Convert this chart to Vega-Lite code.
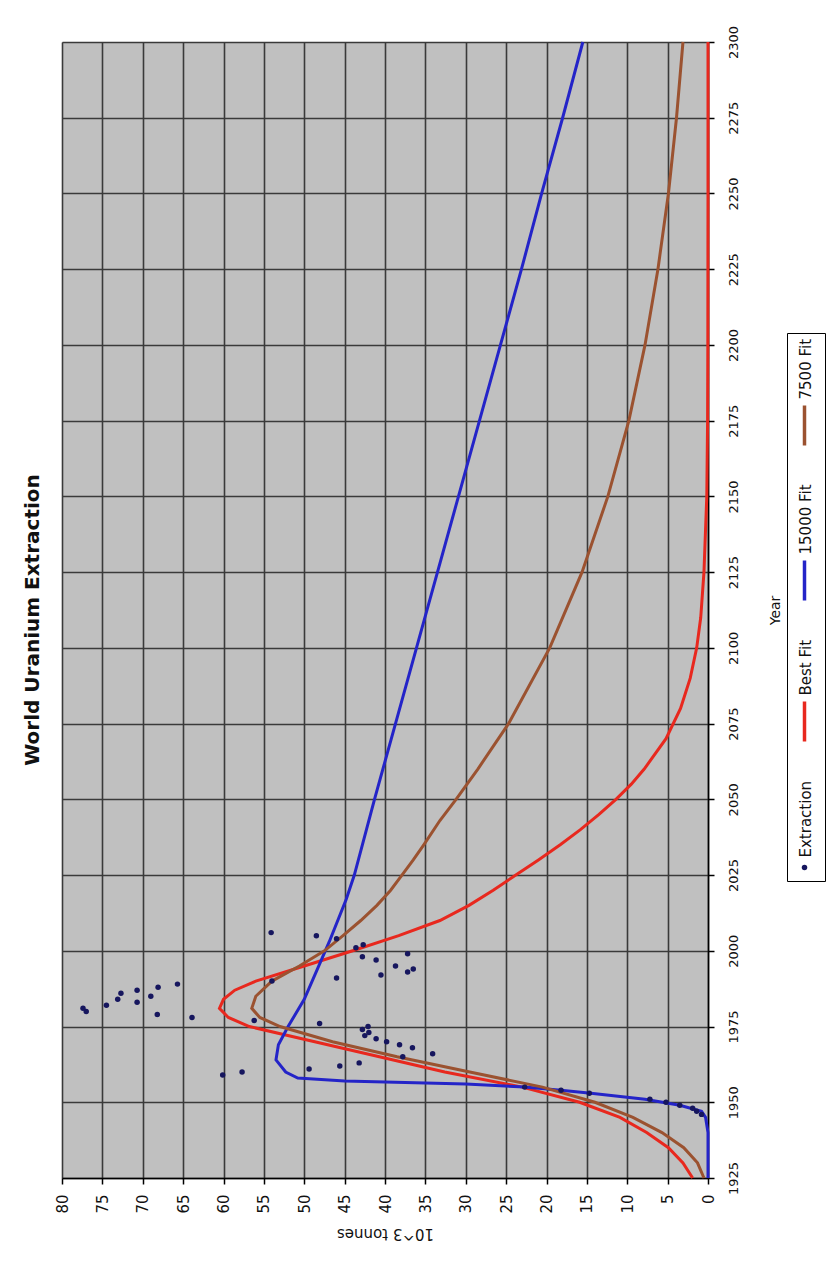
{
  "$schema": "https://vega.github.io/schema/vega-lite/v6.json",
  "width": 646,
  "height": 1136,
  "autosize": {"type": "none"},
  "padding": {"left": 62, "top": 42, "right": 122, "bottom": 89},
  "background": "white",
  "title": {"text": "World Uranium Extraction", "orient": "left", "anchor": "middle", "font": "DejaVu Sans", "fontSize": 20, "fontWeight": "bold", "color": "#111111", "offset": -8, "baseline": "bottom", "dx": -10},
  "config": {"view": {"fill": "#c0c0c0", "stroke": null}, "font": "DejaVu Sans"},
  "data": {"values": [
    {"series": "Best Fit", "year": 1925, "value": 1.9},
    {"series": "Best Fit", "year": 1930, "value": 3.1},
    {"series": "Best Fit", "year": 1935, "value": 4.9},
    {"series": "Best Fit", "year": 1940, "value": 7.6},
    {"series": "Best Fit", "year": 1945, "value": 10.9},
    {"series": "Best Fit", "year": 1950, "value": 15.9},
    {"series": "Best Fit", "year": 1955, "value": 23.0},
    {"series": "Best Fit", "year": 1960, "value": 32.6},
    {"series": "Best Fit", "year": 1965, "value": 40.7},
    {"series": "Best Fit", "year": 1970, "value": 48.7},
    {"series": "Best Fit", "year": 1975, "value": 56.8},
    {"series": "Best Fit", "year": 1978, "value": 59.4},
    {"series": "Best Fit", "year": 1981, "value": 60.5},
    {"series": "Best Fit", "year": 1984, "value": 60.0},
    {"series": "Best Fit", "year": 1987, "value": 58.6},
    {"series": "Best Fit", "year": 1990, "value": 56.0},
    {"series": "Best Fit", "year": 1995, "value": 50.0},
    {"series": "Best Fit", "year": 2000, "value": 44.0},
    {"series": "Best Fit", "year": 2005, "value": 38.3},
    {"series": "Best Fit", "year": 2010, "value": 33.2},
    {"series": "Best Fit", "year": 2015, "value": 29.6},
    {"series": "Best Fit", "year": 2020, "value": 26.6},
    {"series": "Best Fit", "year": 2025, "value": 23.8},
    {"series": "Best Fit", "year": 2030, "value": 21.0},
    {"series": "Best Fit", "year": 2035, "value": 18.3},
    {"series": "Best Fit", "year": 2040, "value": 15.8},
    {"series": "Best Fit", "year": 2045, "value": 13.5},
    {"series": "Best Fit", "year": 2050, "value": 11.4},
    {"series": "Best Fit", "year": 2055, "value": 9.5},
    {"series": "Best Fit", "year": 2060, "value": 7.9},
    {"series": "Best Fit", "year": 2070, "value": 5.2},
    {"series": "Best Fit", "year": 2080, "value": 3.4},
    {"series": "Best Fit", "year": 2090, "value": 2.2},
    {"series": "Best Fit", "year": 2100, "value": 1.4},
    {"series": "Best Fit", "year": 2110, "value": 0.9},
    {"series": "Best Fit", "year": 2125, "value": 0.5},
    {"series": "Best Fit", "year": 2150, "value": 0.15},
    {"series": "Best Fit", "year": 2175, "value": 0.05},
    {"series": "Best Fit", "year": 2200, "value": 0.02},
    {"series": "Best Fit", "year": 2250, "value": 0.0},
    {"series": "Best Fit", "year": 2300, "value": 0.0},

    {"series": "15000 Fit", "year": 1925, "value": 0.0},
    {"series": "15000 Fit", "year": 1940, "value": 0.0},
    {"series": "15000 Fit", "year": 1945, "value": 0.3},
    {"series": "15000 Fit", "year": 1947, "value": 0.8},
    {"series": "15000 Fit", "year": 1949, "value": 3.5},
    {"series": "15000 Fit", "year": 1951, "value": 7.8},
    {"series": "15000 Fit", "year": 1953, "value": 14.5},
    {"series": "15000 Fit", "year": 1954, "value": 18.2},
    {"series": "15000 Fit", "year": 1955, "value": 22.7},
    {"series": "15000 Fit", "year": 1956, "value": 30.0},
    {"series": "15000 Fit", "year": 1957, "value": 45.0},
    {"series": "15000 Fit", "year": 1958, "value": 50.8},
    {"series": "15000 Fit", "year": 1960, "value": 52.3},
    {"series": "15000 Fit", "year": 1964, "value": 53.5},
    {"series": "15000 Fit", "year": 1969, "value": 53.2},
    {"series": "15000 Fit", "year": 1975, "value": 52.0},
    {"series": "15000 Fit", "year": 1984, "value": 50.0},
    {"series": "15000 Fit", "year": 1995, "value": 48.2},
    {"series": "15000 Fit", "year": 2003, "value": 46.9},
    {"series": "15000 Fit", "year": 2017, "value": 44.8},
    {"series": "15000 Fit", "year": 2025, "value": 43.8},
    {"series": "15000 Fit", "year": 2050, "value": 41.3},
    {"series": "15000 Fit", "year": 2075, "value": 38.7},
    {"series": "15000 Fit", "year": 2100, "value": 36.1},
    {"series": "15000 Fit", "year": 2125, "value": 33.5},
    {"series": "15000 Fit", "year": 2150, "value": 30.9},
    {"series": "15000 Fit", "year": 2175, "value": 28.3},
    {"series": "15000 Fit", "year": 2200, "value": 25.7},
    {"series": "15000 Fit", "year": 2225, "value": 23.1},
    {"series": "15000 Fit", "year": 2250, "value": 20.6},
    {"series": "15000 Fit", "year": 2275, "value": 18.0},
    {"series": "15000 Fit", "year": 2300, "value": 15.5},

    {"series": "7500 Fit", "year": 1925, "value": 0.5},
    {"series": "7500 Fit", "year": 1930, "value": 1.3},
    {"series": "7500 Fit", "year": 1935, "value": 3.0},
    {"series": "7500 Fit", "year": 1940, "value": 5.7},
    {"series": "7500 Fit", "year": 1945, "value": 9.3},
    {"series": "7500 Fit", "year": 1950, "value": 14.0},
    {"series": "7500 Fit", "year": 1955, "value": 20.5},
    {"series": "7500 Fit", "year": 1960, "value": 29.5},
    {"series": "7500 Fit", "year": 1965, "value": 38.5},
    {"series": "7500 Fit", "year": 1970, "value": 46.5},
    {"series": "7500 Fit", "year": 1975, "value": 53.0},
    {"series": "7500 Fit", "year": 1978, "value": 55.5},
    {"series": "7500 Fit", "year": 1981, "value": 56.5},
    {"series": "7500 Fit", "year": 1985, "value": 56.0},
    {"series": "7500 Fit", "year": 1990, "value": 54.0},
    {"series": "7500 Fit", "year": 1995, "value": 50.6},
    {"series": "7500 Fit", "year": 2000, "value": 47.5},
    {"series": "7500 Fit", "year": 2005, "value": 45.2},
    {"series": "7500 Fit", "year": 2010, "value": 43.0},
    {"series": "7500 Fit", "year": 2015, "value": 41.0},
    {"series": "7500 Fit", "year": 2020, "value": 39.3},
    {"series": "7500 Fit", "year": 2025, "value": 37.9},
    {"series": "7500 Fit", "year": 2030, "value": 36.5},
    {"series": "7500 Fit", "year": 2035, "value": 35.2},
    {"series": "7500 Fit", "year": 2043, "value": 33.2},
    {"series": "7500 Fit", "year": 2050, "value": 31.2},
    {"series": "7500 Fit", "year": 2060, "value": 28.5},
    {"series": "7500 Fit", "year": 2075, "value": 24.7},
    {"series": "7500 Fit", "year": 2100, "value": 19.6},
    {"series": "7500 Fit", "year": 2125, "value": 15.6},
    {"series": "7500 Fit", "year": 2150, "value": 12.4},
    {"series": "7500 Fit", "year": 2175, "value": 9.8},
    {"series": "7500 Fit", "year": 2200, "value": 7.8},
    {"series": "7500 Fit", "year": 2225, "value": 6.2},
    {"series": "7500 Fit", "year": 2250, "value": 4.9},
    {"series": "7500 Fit", "year": 2275, "value": 3.9},
    {"series": "7500 Fit", "year": 2300, "value": 3.1},

    {"series": "Extraction", "year": 1946, "value": 0.8},
    {"series": "Extraction", "year": 1947, "value": 1.4},
    {"series": "Extraction", "year": 1948, "value": 1.9},
    {"series": "Extraction", "year": 1949, "value": 3.5},
    {"series": "Extraction", "year": 1950, "value": 5.2},
    {"series": "Extraction", "year": 1951, "value": 7.2},
    {"series": "Extraction", "year": 1953, "value": 14.7},
    {"series": "Extraction", "year": 1954, "value": 18.2},
    {"series": "Extraction", "year": 1955, "value": 22.7},
    {"series": "Extraction", "year": 1959, "value": 60.1},
    {"series": "Extraction", "year": 1960, "value": 57.7},
    {"series": "Extraction", "year": 1961, "value": 49.4},
    {"series": "Extraction", "year": 1962, "value": 45.6},
    {"series": "Extraction", "year": 1963, "value": 43.2},
    {"series": "Extraction", "year": 1965, "value": 37.8},
    {"series": "Extraction", "year": 1966, "value": 34.1},
    {"series": "Extraction", "year": 1968, "value": 36.6},
    {"series": "Extraction", "year": 1969, "value": 38.2},
    {"series": "Extraction", "year": 1970, "value": 39.8},
    {"series": "Extraction", "year": 1971, "value": 41.1},
    {"series": "Extraction", "year": 1972, "value": 42.5},
    {"series": "Extraction", "year": 1973, "value": 42.0},
    {"series": "Extraction", "year": 1974, "value": 42.8},
    {"series": "Extraction", "year": 1975, "value": 42.1},
    {"series": "Extraction", "year": 1976, "value": 48.1},
    {"series": "Extraction", "year": 1977, "value": 56.2},
    {"series": "Extraction", "year": 1978, "value": 63.9},
    {"series": "Extraction", "year": 1979, "value": 68.2},
    {"series": "Extraction", "year": 1980, "value": 77.0},
    {"series": "Extraction", "year": 1981, "value": 77.4},
    {"series": "Extraction", "year": 1982, "value": 74.5},
    {"series": "Extraction", "year": 1983, "value": 70.7},
    {"series": "Extraction", "year": 1984, "value": 73.1},
    {"series": "Extraction", "year": 1985, "value": 69.0},
    {"series": "Extraction", "year": 1986, "value": 72.7},
    {"series": "Extraction", "year": 1987, "value": 70.7},
    {"series": "Extraction", "year": 1988, "value": 68.1},
    {"series": "Extraction", "year": 1989, "value": 65.7},
    {"series": "Extraction", "year": 1990, "value": 54.0},
    {"series": "Extraction", "year": 1991, "value": 46.0},
    {"series": "Extraction", "year": 1992, "value": 40.5},
    {"series": "Extraction", "year": 1993, "value": 37.2},
    {"series": "Extraction", "year": 1994, "value": 36.5},
    {"series": "Extraction", "year": 1995, "value": 38.7},
    {"series": "Extraction", "year": 1997, "value": 41.1},
    {"series": "Extraction", "year": 1998, "value": 42.8},
    {"series": "Extraction", "year": 1999, "value": 37.2},
    {"series": "Extraction", "year": 2001, "value": 43.6},
    {"series": "Extraction", "year": 2002, "value": 42.7},
    {"series": "Extraction", "year": 2004, "value": 46.0},
    {"series": "Extraction", "year": 2005, "value": 48.5},
    {"series": "Extraction", "year": 2006, "value": 54.1}
  ]},
  "encoding": {
    "y": {
      "field": "year", "type": "quantitative",
      "scale": {"domain": [1925, 2300], "nice": false, "zero": false},
      "axis": {
        "orient": "right",
        "values": [1925, 1950, 1975, 2000, 2025, 2050, 2075, 2100, 2125, 2150, 2175, 2200, 2225, 2250, 2275, 2300],
        "format": "d",
        "labelAngle": -90, "labelAlign": "center", "labelBaseline": "top",
        "labelPadding": 13, "labelFontSize": 13, "labelColor": "#111111",
        "labelFlush": false, "labelOverlap": false,
        "tickSize": 6, "tickColor": "#000000", "tickWidth": 1.5,
        "domainColor": "#000000", "domainWidth": 1.5,
        "grid": true, "gridColor": "#3a3a3a", "gridWidth": 1.6,
        "title": "Year", "titleAngle": -90, "titleBaseline": "top",
        "titleFontSize": 14, "titleFontWeight": "normal", "titleColor": "#111111", "titlePadding": 28
      }
    },
    "x": {
      "field": "value", "type": "quantitative",
      "scale": {"domain": [0, 80], "reverse": true, "nice": false},
      "axis": {
        "orient": "bottom",
        "values": [0, 5, 10, 15, 20, 25, 30, 35, 40, 45, 50, 55, 60, 65, 70, 75, 80],
        "labelAngle": -90, "labelAlign": "right", "labelBaseline": "middle",
        "labelPadding": 10, "labelFontSize": 15, "labelColor": "#111111",
        "labelFlush": false, "labelOverlap": false,
        "tickSize": 6, "tickColor": "#000000", "tickWidth": 1.5,
        "domainColor": "#000000", "domainWidth": 1.5,
        "grid": true, "gridColor": "#3a3a3a", "gridWidth": 1.6,
        "title": "10^3 tonnes", "titleAngle": 180, "titleBaseline": "bottom",
        "titleFontSize": 15, "titleFontWeight": "normal", "titleColor": "#111111", "titlePadding": 12
      }
    },
    "color": {
      "field": "series", "type": "nominal",
      "scale": {"domain": ["7500 Fit", "15000 Fit", "Best Fit", "Extraction"], "range": ["#9b5230", "#2424c8", "#e8281e", "#16165e"]},
      "legend": {
        "orient": "none", "legendX": 725, "legendY": 291, "direction": "vertical",
        "title": " ", "titleFontSize": 60, "titlePadding": 15,
        "strokeColor": "#000000", "fillColor": "#ffffff", "padding": 10,
        "symbolType": "stroke", "symbolSize": 1600, "symbolStrokeWidth": 3,
        "labelFontSize": 15, "labelColor": "#111111", "labelLimit": 200, "labelOffset": 4, "rowPadding": 31,
        "encode": {
          "symbols": {"update": {
            "shape": {"signal": "datum.value === 'Extraction' ? 'circle' : 'stroke'"},
            "angle": {"value": 90},
            "size": {"signal": "datum.value === 'Extraction' ? 30 : 1600"},
            "fill": {"signal": "datum.value === 'Extraction' ? scale('color', datum.value) : 'transparent'"},
            "stroke": {"signal": "scale('color', datum.value)"},
            "strokeWidth": {"signal": "datum.value === 'Extraction' ? 0 : 3.5"},
            "opacity": {"value": 1}
          }},
          "labels": {"update": {
            "angle": {"value": -90},
            "dx": {"signal": "datum.value === 'Extraction' ? 10 : 26"},
            "dy": {"value": -10}
          }}
        }
      }
    }
  },
  "layer": [
    {
      "transform": [{"filter": "datum.series !== 'Extraction'"}],
      "mark": {"type": "line", "strokeWidth": 3, "clip": false},
      "encoding": {"order": {"field": "year", "type": "quantitative"}}
    },
    {
      "transform": [{"filter": "datum.series === 'Extraction'"}],
      "mark": {"type": "point", "filled": true, "size": 30, "opacity": 1}
    }
  ]
}
